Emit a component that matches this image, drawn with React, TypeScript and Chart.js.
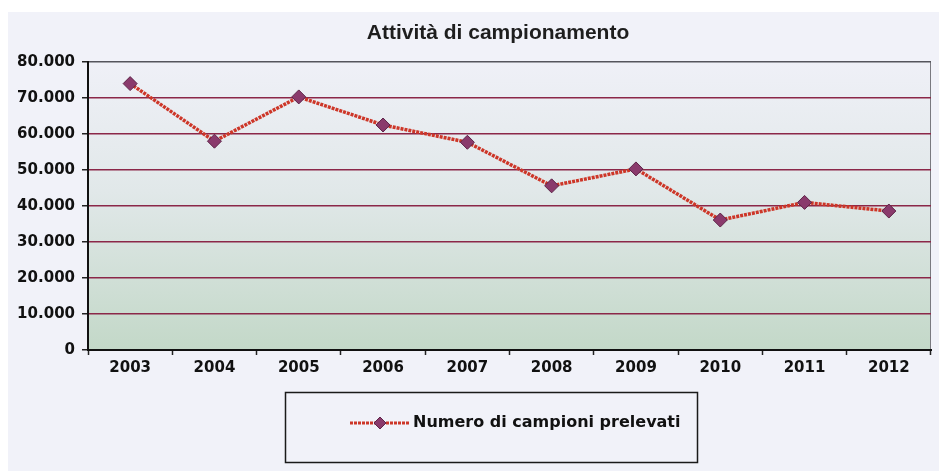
import React, { useEffect, useRef } from "react";
import { Chart, registerables } from "chart.js";

Chart.register(...registerables);

const years = ["2003", "2004", "2005", "2006", "2007", "2008", "2009", "2010", "2011", "2012"];
const campioni = [74000, 58000, 70300, 62500, 57700, 45600, 50300, 36100, 41000, 38600];
const yMin = 0;
const yMax = 80000;
const yStep = 10000;
const titleText = "Attività di campionamento";
const seriesLabel = "Numero di campioni prelevati";

const W = 931;
const H = 459;

function fmt(v: number): string {
  const s = String(Math.round(v));
  return s.replace(/\B(?=(\d{3})+(?!\d))/g, ".");
}

const bgPlugin = {
  id: "plotBg",
  beforeDraw(chart: any) {
    const { ctx, chartArea } = chart;
    const { left, right, top, bottom } = chartArea;
    ctx.save();
    const g = ctx.createLinearGradient(0, top, 0, bottom);
    g.addColorStop(0, "#eff0f7");
    g.addColorStop(0.45, "#e1e8e9");
    g.addColorStop(1, "#c3d8c8");
    ctx.fillStyle = g;
    ctx.fillRect(left, top, right - left, bottom - top);
    ctx.strokeStyle = "#7a7a80";
    ctx.lineWidth = 1;
    ctx.beginPath();
    ctx.moveTo(right - 0.5, top);
    ctx.lineTo(right - 0.5, bottom);
    ctx.stroke();
    ctx.restore();
  },
};

const titlePlugin = {
  id: "plainTitle",
  afterDraw(chart: any) {
    const { ctx } = chart;
    ctx.save();
    ctx.fillStyle = "#1e1e1e";
    ctx.font = "bold 21px 'Liberation Sans', Arial, sans-serif";
    ctx.textAlign = "center";
    ctx.textBaseline = "middle";
    ctx.fillText(titleText, 490, 21);
    ctx.restore();
  },
};

const legendPlugin = {
  id: "boxLegend",
  afterDraw(chart: any) {
    const { ctx } = chart;
    const ds = chart.data.datasets[0];
    ctx.save();
    ctx.strokeStyle = "#1a1a1a";
    ctx.lineWidth = 1.5;
    ctx.strokeRect(277.5, 380.5, 412, 70);
    const cy = 411;
    ctx.strokeStyle = ds.borderColor;
    ctx.lineWidth = 3;
    ctx.setLineDash([3, 1]);
    ctx.beginPath();
    ctx.moveTo(342, cy);
    ctx.lineTo(402, cy);
    ctx.stroke();
    ctx.setLineDash([]);
    ctx.fillStyle = ds.pointBackgroundColor;
    ctx.strokeStyle = ds.pointBorderColor;
    ctx.lineWidth = 1;
    const r = 6;
    ctx.beginPath();
    ctx.moveTo(372, cy - r);
    ctx.lineTo(372 + r, cy);
    ctx.lineTo(372, cy + r);
    ctx.lineTo(372 - r, cy);
    ctx.closePath();
    ctx.fill();
    ctx.stroke();
    ctx.fillStyle = "#111";
    ctx.font = "bold 16px 'DejaVu Sans'";
    ctx.textBaseline = "middle";
    ctx.textAlign = "left";
    ctx.fillText(ds.label, 405, cy);
    ctx.restore();
  },
};

export default function App() {
  const ref = useRef<HTMLCanvasElement | null>(null);

  useEffect(() => {
    if (!ref.current) return;
    const chart = new Chart(ref.current, {
      type: "line",
      data: {
        labels: years,
        datasets: [
          {
            label: seriesLabel,
            data: campioni,
            borderColor: "#cd3628",
            borderWidth: 3.5,
            borderDash: [3, 1],
            pointStyle: "rectRot",
            pointRadius: 7,
            pointHoverRadius: 7,
            pointBackgroundColor: "#8a3a6c",
            pointBorderColor: "#5e2448",
            pointBorderWidth: 1,
            tension: 0,
            fill: false,
          } as any,
        ],
      },
      plugins: [bgPlugin, titlePlugin, legendPlugin],
      options: {
        responsive: false,
        animation: false,
        devicePixelRatio: 1,
        layout: { padding: { left: 0, right: 7, top: 50, bottom: 91 } },
        plugins: {
          legend: { display: false },
          tooltip: { enabled: false },
          title: { display: false },
        },
        scales: {
          x: {
            offset: true,
            afterFit(axis: any) {
              axis.height = 30;
            },
            grid: {
              offset: true,
              drawOnChartArea: false,
              drawTicks: true,
              tickLength: 5,
              tickColor: "#222",
              tickWidth: 1.5,
            },
            border: { color: "#111", width: 2 },
            ticks: {
              color: "#111",
              padding: 4,
              font: { family: "'DejaVu Sans', sans-serif", size: 15, weight: "bold" },
              maxRotation: 0,
              autoSkip: false,
            },
          },
          y: {
            min: yMin,
            max: yMax,
            afterFit(axis: any) {
              axis.width = 80;
            },
            grid: {
              color: (c: any) =>
                c.tick && c.tick.value === yMax ? "#55555c" : c.tick && c.tick.value === 0 ? "#111" : "#8b2748",
              lineWidth: 1.5,
              tickLength: 6,
              tickColor: "#222",
              tickWidth: 1.5,
            },
            border: { color: "#111", width: 2 },
            ticks: {
              stepSize: yStep,
              color: "#111",
              padding: 7,
              font: { family: "'DejaVu Sans', sans-serif", size: 15, weight: "bold" },
              callback: (v: any) => fmt(Number(v)),
            },
          },
        },
      },
    });
    return () => chart.destroy();
  }, []);

  return (
    <div
      style={{
        position: "absolute",
        left: 8,
        top: 12,
        width: W,
        height: H,
        background: "#f1f2f9",
      }}
    >
      <canvas ref={ref} width={W} height={H} style={{ display: "block" }} />
    </div>
  );
}
